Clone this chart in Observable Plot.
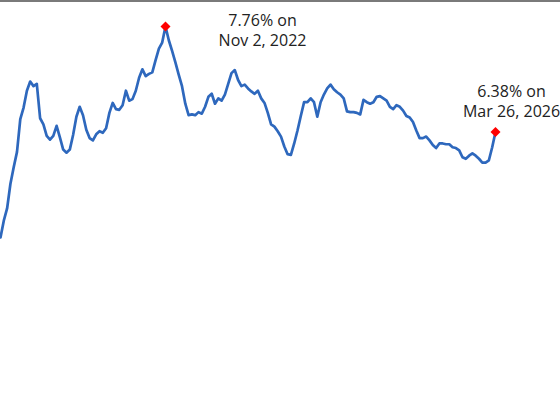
<!DOCTYPE html>
<html>
<head>
<meta charset="utf-8">
<script src="https://cdn.jsdelivr.net/npm/d3@7"></script>
<script src="https://cdn.jsdelivr.net/npm/@observablehq/plot@0.6"></script>
<style>
  html, body { margin: 0; padding: 0; background: #fff; }
  #wrap { position: relative; width: 560px; height: 420px; overflow: hidden; }
  #topline { position: absolute; left: 0; top: 0; width: 560px; height: 2px; background: #7a7a7a; }
</style>
</head>
<body>
<div id="wrap"><div id="topline"></div></div>
<script>
// Rate (%) sampled every 12.4 days, Feb 20, 2021 -> Mar 26, 2026
const rates = [
  5.00, 5.22, 5.38, 5.70, 5.92, 6.12, 6.55, 6.70, 6.92, 7.04,
  6.98, 7.01, 6.56, 6.48, 6.33, 6.28, 6.33, 6.46, 6.31, 6.15,
  6.11, 6.15, 6.34, 6.58, 6.71, 6.60, 6.41, 6.30, 6.27, 6.35,
  6.39, 6.37, 6.43, 6.63, 6.76, 6.68, 6.67, 6.73, 6.92, 6.79,
  6.81, 6.92, 7.09, 7.20, 7.11, 7.14, 7.16, 7.32, 7.47, 7.55,
  7.76, 7.58, 7.44, 7.29, 7.13, 6.98, 6.75, 6.60, 6.61, 6.60,
  6.64, 6.62, 6.71, 6.84, 6.88, 6.75, 6.82, 6.79, 6.87, 7.01,
  7.15, 7.19, 7.06, 6.98, 7.00, 6.95, 6.91, 6.88, 6.92, 6.82,
  6.76, 6.63, 6.48, 6.45, 6.39, 6.32, 6.19, 6.09, 6.08, 6.23,
  6.40, 6.59, 6.77, 6.77, 6.82, 6.77, 6.58, 6.77, 6.87, 6.95,
  7.00, 6.94, 6.90, 6.87, 6.82, 6.65, 6.64, 6.64, 6.63, 6.61,
  6.80, 6.77, 6.75, 6.77, 6.84, 6.85, 6.82, 6.79, 6.71, 6.68,
  6.73, 6.71, 6.66, 6.59, 6.57, 6.51, 6.40, 6.30, 6.30, 6.32,
  6.27, 6.21, 6.17, 6.23, 6.23, 6.22, 6.22, 6.18, 6.17, 6.14,
  6.05, 6.03, 6.07, 6.10, 6.07, 6.03, 5.98, 5.98, 6.01, 6.18,
  6.38
];
const startDate = Date.UTC(2021, 1, 20);
const stepDays = 12.4;
const endDate = Date.UTC(2026, 2, 26);

const data = rates.map((r, i) => ({
  date: new Date(startDate + i * stepDays * 864e5),
  rate: r
}));

const fmtDate = d3.utcFormat("%b %-d, %Y");
const peak = d3.greatest(data, d => d.rate);
const last = data[data.length - 1];
const line1 = d => `${d.rate.toFixed(2)}% on`;
const line2 = d => fmtDate(d.date);

const textOpts = { x: "date", y: "rate", fontSize: 16, fill: "#222" };

const chart = Plot.plot({
  width: 560,
  height: 420,
  marginTop: 0, marginRight: 0, marginBottom: 0, marginLeft: 0,
  style: { background: "transparent", fontFamily: "'Open Sans', sans-serif" },
  x: { type: "utc", domain: [new Date(startDate), new Date(endDate)], range: [0, 495], axis: null },
  y: { domain: [3, 8], range: [389.9, 7.65], axis: null },
  marks: [
    Plot.line(data, { x: "date", y: "rate", stroke: "#2e68bd", strokeWidth: 2.7, curve: "linear" }),
    Plot.dot([peak, last], { x: "date", y: "rate", symbol: "square", rotate: 45, r: 4, fill: "#ff0000", stroke: "none" }),
    Plot.text([peak], { ...textOpts, text: line1, dx: 97, dy: -6 }),
    Plot.text([peak], { ...textOpts, text: line2, dx: 97, dy: 14 }),
    Plot.text([last], { ...textOpts, text: line1, dx: 16, dy: -40 }),
    Plot.text([last], { ...textOpts, text: line2, dx: 16, dy: -20 })
  ]
});
chart.style.position = "absolute";
chart.style.left = "0";
chart.style.top = "0";
document.getElementById("wrap").appendChild(chart);
</script>
</body>
</html>
